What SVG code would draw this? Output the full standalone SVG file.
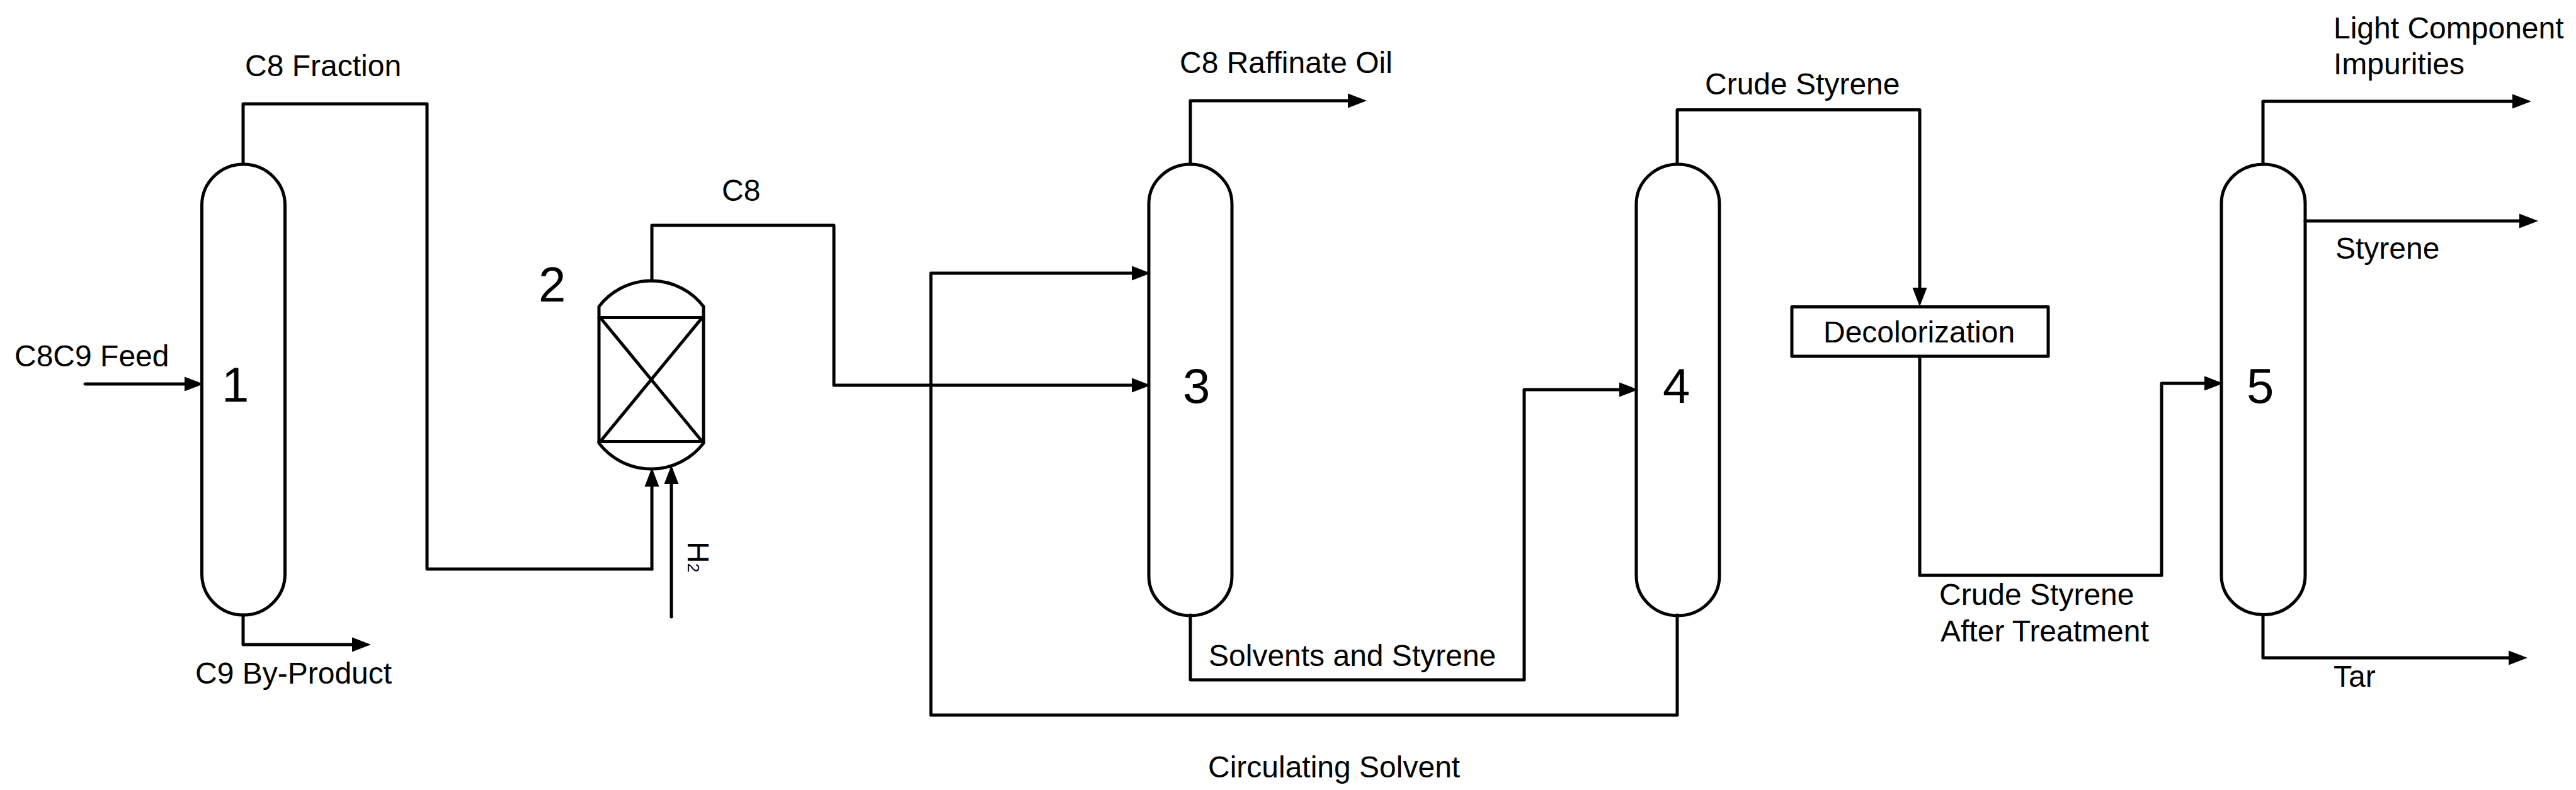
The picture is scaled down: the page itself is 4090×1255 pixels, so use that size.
<svg xmlns="http://www.w3.org/2000/svg" width="4090" height="1255" viewBox="0 0 4090 1255">
<style>
.s{fill:none;stroke:#000;stroke-width:5;stroke-linejoin:round;stroke-linecap:round}
.a{marker-end:url(#arrow)}
text{font-family:"Liberation Sans",Arial,sans-serif;font-size:48px;fill:#000}
.n{font-size:78px}
</style>
<defs>
<marker id="arrow" markerUnits="userSpaceOnUse" markerWidth="32" markerHeight="26" refX="20" refY="13" orient="auto">
<path d="M0,1.500L30,13L0,24.500Z" fill="#000"/>
</marker>
</defs>
<rect width="4090" height="1255" fill="#fff"/>
<g id="connectors">
<path class="s a" d="M135,610H313"/>
<path class="s" d="M386,261V165H678V904H1035"/>
<path class="s a" d="M1035,904V753"/>
<path class="s a" d="M1066,980V749"/>
<path class="s a" d="M386,977V1024H579"/>
<path class="s a" d="M1035,446V358H1324V612H1817"/>
<path class="s a" d="M2663,977V1136H1478V434H1817"/>
<path class="s a" d="M1890,261V160H2160"/>
<path class="s a" d="M1890,977V1080H2420V619H2591"/>
<path class="s a" d="M2663,261V174.500H3048V477"/>
<path class="s a" d="M3048,566V914H3432V609H3520"/>
<path class="s a" d="M3593,261V161H4009"/>
<path class="s a" d="M3660,351H4020"/>
<path class="s a" d="M3593,977V1045H4003"/>
</g>
<g id="node-1">
<path class="s" d="M320.500,326A66,65 0 0 1 452.500,326V912A66,65 0 0 1 320.500,912Z"/>
<text class="n" x="352" y="638">1</text>
</g>
<g id="node-2">
<path class="s" d="M951,487A104.500,104.500 0 0 1 1117,487V704A104.500,104.500 0 0 1 951,704Z"/>
<path class="s" d="M951,504.500H1117M951,701.500H1117M953,504.500L1115,701.500M1115,504.500L953,701.500"/>
<text class="n" x="855" y="479">2</text>
</g>
<g id="node-3">
<path class="s" d="M1824,324A66,63 0 0 1 1956,324V915A66,63 0 0 1 1824,915Z"/>
<text class="n" x="1878" y="640">3</text>
</g>
<g id="node-4">
<path class="s" d="M2598,324A66,63 0 0 1 2730,324V915A66,63 0 0 1 2598,915Z"/>
<text class="n" x="2640" y="640">4</text>
</g>
<g id="node-decolorization">
<rect class="s" x="2845" y="487.500" width="407" height="78.500"/>
<text x="2895" y="543.500">Decolorization</text>
</g>
<g id="node-5">
<path class="s" d="M3527,323A66.500,62 0 0 1 3660,323V914.500A66.500,62 0 0 1 3527,914.500Z"/>
<text class="n" x="3567" y="640">5</text>
</g>
<g id="labels">
<text x="389" y="121">C8 Fraction</text>
<text x="23" y="582">C8C9 Feed</text>
<text x="310" y="1086">C9 By-Product</text>
<text x="1146" y="319">C8</text>
<text transform="translate(1092,860) rotate(90)">H<tspan font-size="26">2</tspan></text>
<text x="1873" y="116">C8 Raffinate Oil</text>
<text x="1919" y="1058">Solvents and Styrene</text>
<text x="1918" y="1235">Circulating Solvent</text>
<text x="2707" y="150">Crude Styrene</text>
<text x="3079" y="961">Crude Styrene</text>
<text x="3081" y="1019">After Treatment</text>
<text x="3705" y="61">Light Component</text>
<text x="3705" y="118">Impurities</text>
<text x="3708" y="411">Styrene</text>
<text x="3705" y="1091">Tar</text>
</g>
</svg>
